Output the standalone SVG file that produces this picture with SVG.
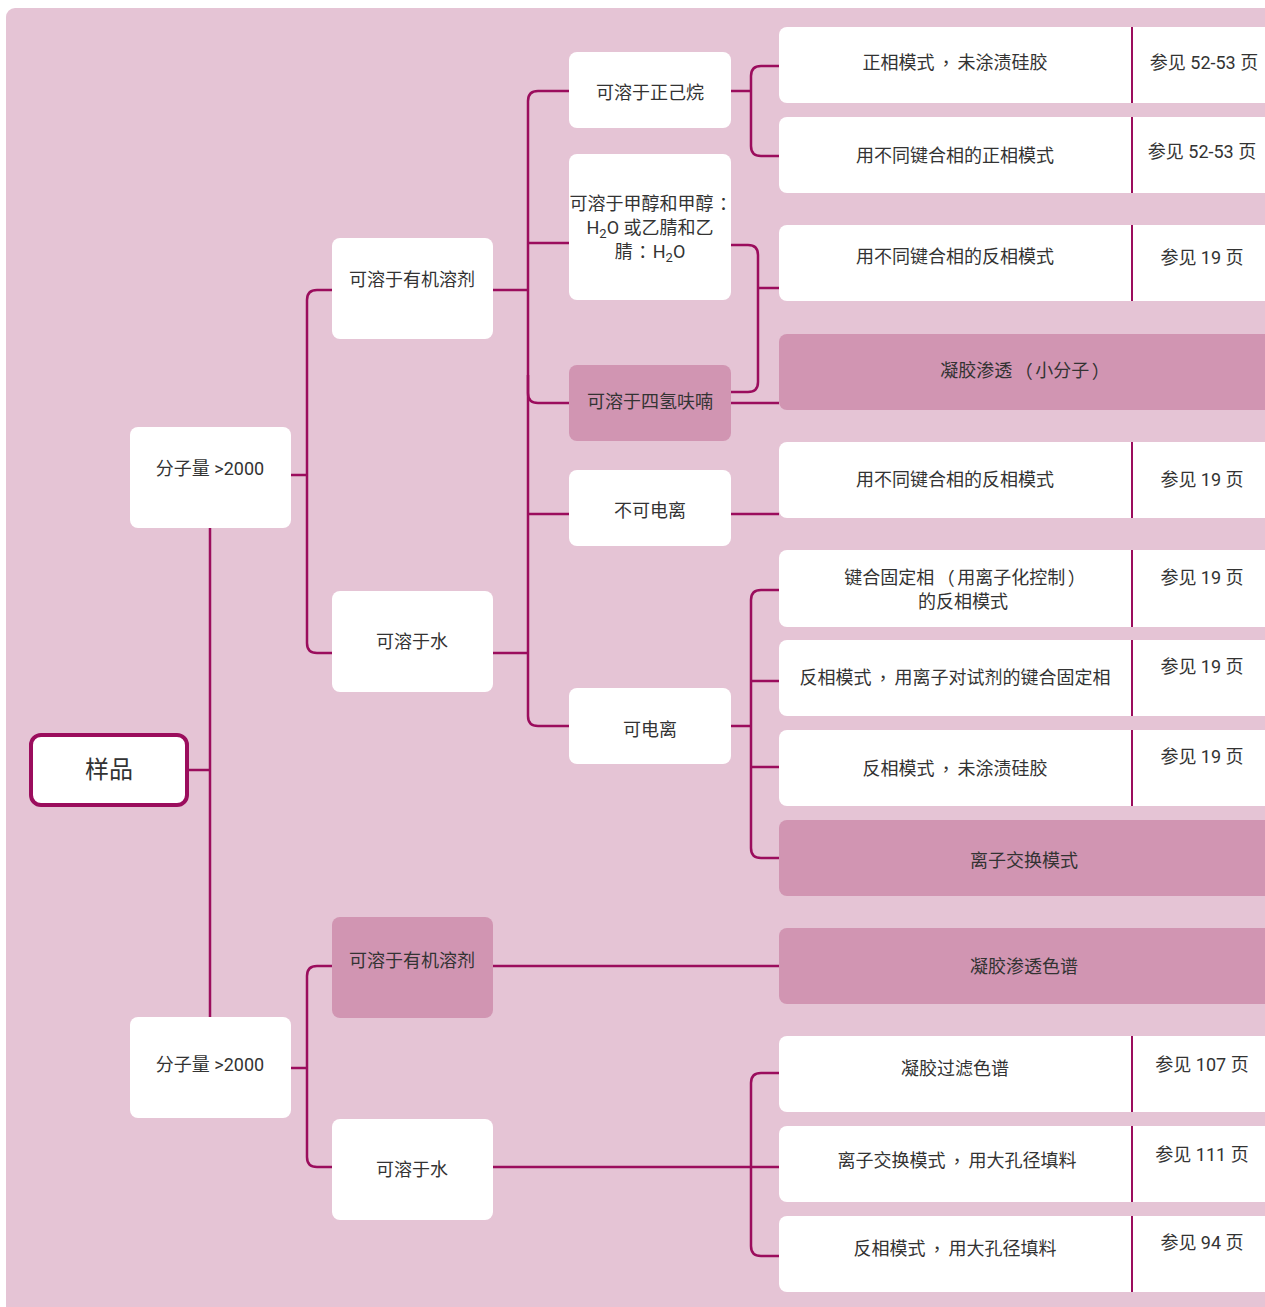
<svg xmlns="http://www.w3.org/2000/svg" width="1265" height="1307" viewBox="0 0 1265 1307">
<style>
.bg{fill:#e5c4d5}
.n{fill:#ffffff}
.p{fill:#d195b2}
.c{fill:none;stroke:#9b0d5d;stroke-width:2.5}
.d{stroke:#9b0d5d;stroke-width:2}
text{font-family:Roboto,"Noto Sans CJK SC",sans-serif;font-size:18px;fill:#333333;text-anchor:middle;dominant-baseline:central}
.s{font-size:13px}
.t{font-family:"Noto Sans CJK TC",sans-serif}
</style>
<rect class="bg" x="6" y="8" width="1280" height="1320" rx="9"/>
<g id="connectors">
<path class="c" d="M188,770 H210 M210,528 V1017"/>
<path class="c" d="M291,475 H307 M332,290 H317 Q307,290 307,300 V643 Q307,653 317,653 H332"/>
<path class="c" d="M493,290 H528 M569,91 H538 Q528,91 528,101 V393 Q528,403 538,403 H569 M528,243 H569"/>
<path class="c" d="M493,653 H528 M528,375 V716 Q528,726 538,726 H569 M528,514 H569"/>
<path class="c" d="M731,91 H751 M779,66 H761 Q751,66 751,76 V146 Q751,156 761,156 H779"/>
<path class="c" d="M731,245 H748 Q758,245 758,255 V382 Q758,392 748,392 H731 M758,288 H779"/>
<path class="c" d="M731,403 H779 M731,514 H779"/>
<path class="c" d="M731,726 H751 M779,590 H761 Q751,590 751,600 V848 Q751,858 761,858 H779 M751,681 H779 M751,767 H779"/>
<path class="c" d="M291,1068 H307 M332,966 H317 Q307,966 307,976 V1157 Q307,1167 317,1167 H332"/>
<path class="c" d="M493,966 H779 M493,1167 H779 M779,1073 H761 Q751,1073 751,1083 V1246 Q751,1256 761,1256 H779"/>
</g>
<g id="n-sample"><rect x="31" y="735" width="156" height="70" rx="10" fill="#fff" stroke="#9b0d5d" stroke-width="4"/><text x="109" y="770" style="font-size:24px">样品</text></g>
<g id="n-mw1"><rect class="n" x="130" y="427" width="161" height="101" rx="8"/><text x="210" y="468">分子量 &gt;2000</text></g>
<g id="n-mw2"><rect class="n" x="130" y="1017" width="161" height="101" rx="8"/><text x="210" y="1064">分子量 &gt;2000</text></g>
<g id="n-org1"><rect class="n" x="332" y="238" width="161" height="101" rx="8"/><text x="412" y="279">可溶于有机溶剂</text></g>
<g id="n-water1"><rect class="n" x="332" y="591" width="161" height="101" rx="8"/><text x="412" y="641">可溶于水</text></g>
<g id="n-org2"><rect class="p" x="332" y="917" width="161" height="101" rx="8"/><text x="412" y="960">可溶于有机溶剂</text></g>
<g id="n-water2"><rect class="n" x="332" y="1119" width="161" height="101" rx="8"/><text x="412" y="1169">可溶于水</text></g>
<g id="n-hexane"><rect class="n" x="569" y="52" width="162" height="76" rx="8"/><text x="650" y="92">可溶于正己烷</text></g>
<g id="n-methanol"><rect class="n" x="569" y="154" width="162" height="146" rx="8"/><text x="651" y="203">可溶于甲醇和甲醇<tspan class="t" dx="1">：</tspan></text><text x="650" y="227">H<tspan class="s" dy="6">2</tspan><tspan dy="-6">O 或乙腈和乙</tspan></text><text x="650" y="251">腈<tspan class="t" dx="1">：</tspan><tspan dx="1">H</tspan><tspan class="s" dy="6">2</tspan><tspan dy="-6">O</tspan></text></g>
<g id="n-thf"><rect class="p" x="569" y="365" width="162" height="76" rx="8"/><text x="650" y="401">可溶于四氢呋喃</text></g>
<g id="n-nonion"><rect class="n" x="569" y="470" width="162" height="76" rx="8"/><text x="650" y="510">不可电离</text></g>
<g id="n-ion"><rect class="n" x="569" y="688" width="162" height="76" rx="8"/><text x="650" y="729">可电离</text></g>
<g id="r1"><rect class="n" x="779" y="27" width="500" height="76" rx="8"/><line class="d" x1="1132" y1="27" x2="1132" y2="103"/><text x="955" y="62">正相模式<tspan class="t" dx="2.5">，</tspan><tspan dx="2.5">未涂渍硅胶</tspan></text><text x="1204" y="62">参见 52-53 页</text></g>
<g id="r2"><rect class="n" x="779" y="117" width="500" height="76" rx="8"/><line class="d" x1="1132" y1="117" x2="1132" y2="193"/><text x="955" y="155">用不同键合相的正相模式</text><text x="1202" y="151">参见 52-53 页</text></g>
<g id="r3"><rect class="n" x="779" y="225" width="500" height="76" rx="8"/><line class="d" x1="1132" y1="225" x2="1132" y2="301"/><text x="955" y="256">用不同键合相的反相模式</text><text x="1202" y="257">参见 19 页</text></g>
<g id="r4"><rect class="p" x="779" y="334" width="500" height="76" rx="8"/><text x="1025" y="370">凝胶渗透<tspan class="t" dx="2.5">（</tspan><tspan dx="2.5">小分子</tspan><tspan class="t" dx="2.5">）</tspan></text></g>
<g id="r5"><rect class="n" x="779" y="442" width="500" height="76" rx="8"/><line class="d" x1="1132" y1="442" x2="1132" y2="518"/><text x="955" y="479">用不同键合相的反相模式</text><text x="1202" y="479">参见 19 页</text></g>
<g id="r6"><rect class="n" x="779" y="550" width="500" height="77" rx="8"/><line class="d" x1="1132" y1="550" x2="1132" y2="627"/><text x="965" y="577">键合固定相<tspan class="t" dx="2.5">（</tspan><tspan dx="2.5">用离子化控制</tspan><tspan class="t" dx="2.5">）</tspan></text><text x="963" y="601">的反相模式</text><text x="1202" y="577">参见 19 页</text></g>
<g id="r7"><rect class="n" x="779" y="640" width="500" height="76" rx="8"/><line class="d" x1="1132" y1="640" x2="1132" y2="716"/><text x="955" y="677">反相模式<tspan class="t" dx="2.5">，</tspan><tspan dx="2.5">用离子对试剂的键合固定相</tspan></text><text x="1202" y="666">参见 19 页</text></g>
<g id="r8"><rect class="n" x="779" y="730" width="500" height="76" rx="8"/><line class="d" x1="1132" y1="730" x2="1132" y2="806"/><text x="955" y="768">反相模式<tspan class="t" dx="2.5">，</tspan><tspan dx="2.5">未涂渍硅胶</tspan></text><text x="1202" y="756">参见 19 页</text></g>
<g id="r9"><rect class="p" x="779" y="820" width="500" height="76" rx="8"/><text x="1024" y="860">离子交换模式</text></g>
<g id="r10"><rect class="p" x="779" y="928" width="500" height="76" rx="8"/><text x="1024" y="966">凝胶渗透色谱</text></g>
<g id="r11"><rect class="n" x="779" y="1036" width="500" height="76" rx="8"/><line class="d" x1="1132" y1="1036" x2="1132" y2="1112"/><text x="955" y="1068">凝胶过滤色谱</text><text x="1202" y="1064">参见 107 页</text></g>
<g id="r12"><rect class="n" x="779" y="1126" width="500" height="76" rx="8"/><line class="d" x1="1132" y1="1126" x2="1132" y2="1202"/><text x="957" y="1160">离子交换模式<tspan class="t" dx="2.5">，</tspan><tspan dx="2.5">用大孔径填料</tspan></text><text x="1202" y="1154">参见 111 页</text></g>
<g id="r13"><rect class="n" x="779" y="1216" width="500" height="76" rx="8"/><line class="d" x1="1132" y1="1216" x2="1132" y2="1292"/><text x="955" y="1248">反相模式<tspan class="t" dx="2.5">，</tspan><tspan dx="2.5">用大孔径填料</tspan></text><text x="1202" y="1242">参见 94 页</text></g>
</svg>
